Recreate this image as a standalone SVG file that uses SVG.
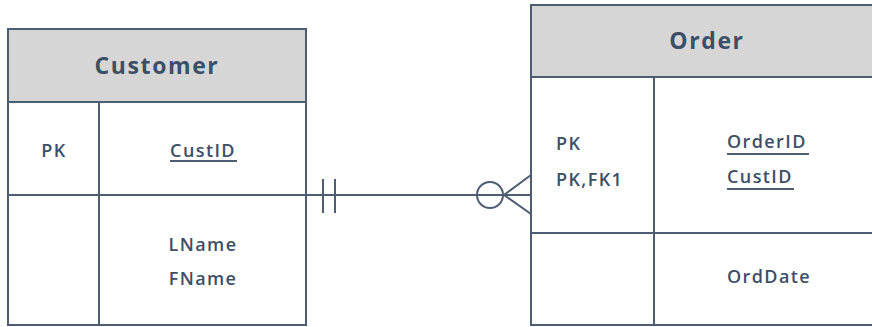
<svg xmlns="http://www.w3.org/2000/svg" width="872" height="327" viewBox="0 0 872 327">
<style>
.box{fill:#fff;stroke:#4d5d72;stroke-width:2}
.hdr{fill:#d6d6d6;stroke:#4d5d72;stroke-width:2}
.ln{stroke:#4d5d72;stroke-width:2;fill:none}
.t{font-family:"Open Sans","DejaVu Sans",sans-serif;fill:#3d4f66;font-weight:600;font-size:18px;letter-spacing:1.4px}
.h{font-family:"Open Sans","DejaVu Sans",sans-serif;fill:#3d4f66;font-weight:700;font-size:23px;letter-spacing:1.6px}
</style>
<g id="customer">
<rect class="box" x="8" y="29" width="298" height="296"/>
<rect class="hdr" x="8" y="29" width="298" height="73"/>
<line class="ln" x1="99" y1="102" x2="99" y2="325"/>
<line class="ln" x1="8" y1="195" x2="306" y2="195"/>
<text class="h" x="157" y="74" text-anchor="middle">Customer</text>
<text class="t" x="54" y="157" text-anchor="middle">PK</text>
<text class="t" x="203" y="157" text-anchor="middle">CustID</text>
<line class="ln" x1="170" y1="161" x2="237" y2="161" stroke-width="1.5"/>
<text class="t" x="203" y="251" text-anchor="middle">LName</text>
<text class="t" x="203" y="285" text-anchor="middle">FName</text>
</g>
<g id="order">
<rect class="box" x="531" y="5" width="345" height="320"/>
<rect class="hdr" x="531" y="5" width="345" height="72"/>
<line class="ln" x1="654" y1="77" x2="654" y2="325"/>
<line class="ln" x1="531" y1="233" x2="876" y2="233"/>
<text class="h" x="707" y="49" text-anchor="middle">Order</text>
<text class="t" x="556" y="150">PK</text>
<text class="t" x="556" y="186">PK,FK1</text>
<text class="t" x="727" y="148">OrderID</text>
<line class="ln" x1="727" y1="154" x2="809" y2="154" stroke-width="1.5"/>
<text class="t" x="727" y="183">CustID</text>
<line class="ln" x1="727" y1="189" x2="794" y2="189" stroke-width="1.5"/>
<text class="t" x="769" y="283" text-anchor="middle">OrdDate</text>
</g>
<g id="connectors">
<line class="ln" x1="306" y1="195" x2="531" y2="195"/>
<line class="ln" x1="323" y1="179" x2="323" y2="213"/>
<line class="ln" x1="335" y1="179" x2="335" y2="213"/>
<circle class="ln" cx="490" cy="195" r="13" fill="#fff"/>
<polyline class="ln" points="531,175 504,195 531,214"/>
</g>
</svg>
